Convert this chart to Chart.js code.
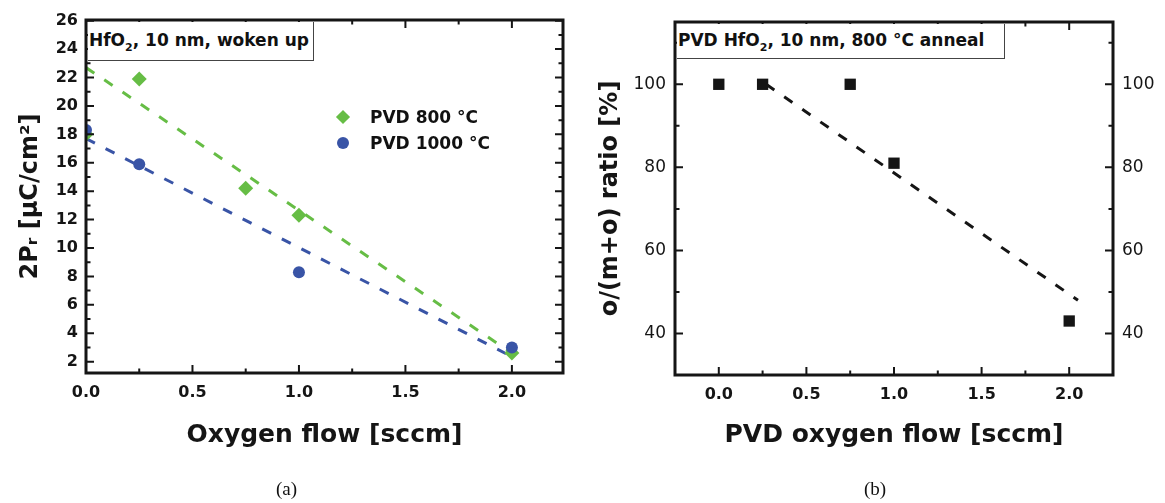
<!DOCTYPE html>
<html>
<head>
<meta charset="utf-8">
<script src="https://cdn.jsdelivr.net/npm/chart.js@4.4.1/dist/chart.umd.min.js"></script>
<style>
  body { margin: 0; background: #fff; }
  #wrap { position: relative; width: 1165px; height: 503px; overflow: hidden; font-family: "DejaVu Sans", sans-serif; color: #111; }
  canvas { position: absolute; top: 0; }
  #chartA { left: 0; }
  #chartB { left: 582px; }
  .box { position: absolute; background: #fff; border-right: 1px solid #444; border-bottom: 1px solid #444; font-size: 17px; font-weight: bold; white-space: nowrap; line-height: 1; }
  .box sub { font-size: 11px; vertical-align: -5px; line-height: 0; }
  #legendA { position: absolute; left: 330px; top: 104px; font-weight: bold; font-size: 17px; }
  #legendA .row { position: relative; height: 26px; line-height: 26px; padding-left: 40px; }
  #legendA .mk { position: absolute; }
  .caption { position: absolute; top: 478px; font-family: "Liberation Serif", serif; font-size: 19px; }
</style>
</head>
<body>
<div id="wrap">
  <canvas id="chartA" width="582" height="503"></canvas>
  <canvas id="chartB" width="583" height="503"></canvas>
  <div class="box" style="left:88px; top:22px; width:224px; height:38px; padding-left:1px;"><span style="position:relative; top:10px;">HfO<sub>2</sub>, 10 nm, woken up</span></div>
  <div class="box" style="left:677px; top:24px; width:326px; height:34px; padding-left:1px;"><span style="position:relative; top:8px;">PVD HfO<sub>2</sub>, 10 nm, 800 °C anneal</span></div>
  <div id="legendA"></div>
  <div class="caption" style="left:276px;">(a)</div>
  <div class="caption" style="left:864px;">(b)</div>
</div>
<script>
// (a) remanent polarization vs oxygen flow
const flow800 = [0, 0.25, 0.75, 1.0, 2.0];
const pr800 = [18.0, 21.9, 14.2, 12.3, 2.6];
const flow1000 = [0, 0.25, 1.0, 2.0];
const pr1000 = [18.3, 15.9, 8.3, 3.0];
const fitFlowA = [0, 2.0];
const fit800 = [22.7, 2.6];
const fit1000 = [17.7, 2.35];

// (b) orthorhombic ratio vs oxygen flow
const flowB = [0, 0.25, 0.75, 1.0, 2.0];
const ratioB = [100, 100, 100, 81, 43];
const fitFlowB = [0.27, 2.05];
const fitRatioB = [100, 48];

// tick labels
const xTicksA = [0, 0.5, 1.0, 1.5, 2.0];
const xMinorA = [0.25, 0.75, 1.25, 1.75];
const yTicksA = [2, 4, 6, 8, 10, 12, 14, 16, 18, 20, 22, 24, 26];
const yMinorA = [3, 5, 7, 9, 11, 13, 15, 17, 19, 21, 23, 25];
const xTicksB = [0, 0.5, 1.0, 1.5, 2.0];
const xMinorB = [0.25, 0.75, 1.25, 1.75];
const yTicksB = [40, 60, 80, 100];
const yMinorB = [50, 70, 90, 110];

const GREEN = '#66bd45';
const BLUE = '#3954a6';
const INK = '#151515';

const pts = (xs, ys) => xs.map((x, i) => ({ x: x, y: ys[i] }));
const setTicks = vals => scale => { scale.ticks = vals.map(v => ({ value: v })); };

// frame with inward ticks on all four sides
const frameTicks = {
    id: 'frameTicks',
    afterDatasetsDraw(chart, args, o) {
        const { ctx, chartArea: a } = chart;
        const xs = chart.scales.x, ys = chart.scales.y;
        ctx.save();
        ctx.strokeStyle = INK;
        ctx.lineWidth = 2;
        ctx.beginPath();
        const xMark = (vals, len) => vals.forEach(v => {
            const px = xs.getPixelForValue(v);
            ctx.moveTo(px, a.bottom); ctx.lineTo(px, a.bottom - len);
            ctx.moveTo(px, a.top); ctx.lineTo(px, a.top + len);
        });
        const yMark = (vals, len) => vals.forEach(v => {
            const py = ys.getPixelForValue(v);
            ctx.moveTo(a.left, py); ctx.lineTo(a.left + len, py);
            ctx.moveTo(a.right, py); ctx.lineTo(a.right - len, py);
        });
        xMark(o.xMajor, 8); xMark(o.xMinor, 4.5);
        yMark(o.yMajor, 8); yMark(o.yMinor, 4.5);
        ctx.stroke();
        ctx.lineWidth = 3;
        ctx.strokeRect(a.left, a.top, a.right - a.left, a.bottom - a.top);
        ctx.restore();
    }
};

const tickFont = { family: 'DejaVu Sans', size: 16, weight: 'bold' };
const tickFontB = { family: 'DejaVu Sans', size: 17 };
const titleFont = { family: 'DejaVu Sans', size: 25, weight: 'bold' };
const DASH = [10, 12];

const chartA = new Chart(document.getElementById('chartA'), {
    type: 'scatter',
    data: {
        datasets: [
            { label: 'PVD 1000 °C', data: pts(flow1000, pr1000), pointStyle: 'circle', pointRadius: 6, backgroundColor: BLUE, borderWidth: 0 },
            { label: 'PVD 800 °C', data: pts(flow800, pr800), pointStyle: 'rectRot', pointRadius: 7.5, backgroundColor: GREEN, borderWidth: 0 },
            { label: 'fit 800', data: pts(fitFlowA, fit800), showLine: true, pointRadius: 0, borderColor: GREEN, borderWidth: 3, borderDash: DASH },
            { label: 'fit 1000', data: pts(fitFlowA, fit1000), showLine: true, pointRadius: 0, borderColor: BLUE, borderWidth: 3, borderDash: DASH }
        ]
    },
    options: {
        responsive: false,
        animation: false,
        layout: { padding: { left: 0, top: 20, right: 19, bottom: 50 } },
        plugins: {
            legend: { display: false },
            tooltip: { enabled: false },
            frameTicks: { xMajor: xTicksA, xMinor: xMinorA, yMajor: yTicksA, yMinor: yMinorA }
        },
        scales: {
            x: {
                min: 0, max: 2.24,
                afterBuildTicks: setTicks(xTicksA),
                afterFit: s => { s.height = 80; },
                grid: { display: false, drawTicks: false },
                border: { display: false },
                ticks: { font: tickFont, color: INK, padding: 10, maxRotation: 0, callback: v => v.toFixed(1) },
                title: { display: true, text: 'Oxygen flow [sccm]', font: titleFont, color: INK, padding: { top: 0, bottom: 3 } }
            },
            y: {
                min: 1.2, max: 26.05,
                afterBuildTicks: setTicks(yTicksA),
                afterFit: s => { s.width = 86; },
                grid: { display: false, drawTicks: false },
                border: { display: false },
                ticks: { font: tickFont, color: INK, padding: 8 },
                title: { display: true, text: '2Pᵣ [µC/cm²]', font: { family: 'DejaVu Sans', size: 24, weight: 'bold' }, color: INK, padding: { top: 16, bottom: 0 } }
            }
        }
    },
    plugins: [frameTicks]
});

const chartB = new Chart(document.getElementById('chartB'), {
    type: 'scatter',
    data: {
        datasets: [
            { label: 'PVD HfO₂ 800 °C', data: pts(flowB, ratioB), pointStyle: 'rect', pointRadius: 8, backgroundColor: INK, borderWidth: 0 },
            { label: 'fit', data: pts(fitFlowB, fitRatioB), showLine: true, pointRadius: 0, borderColor: INK, borderWidth: 3, borderDash: DASH }
        ]
    },
    options: {
        responsive: false,
        animation: false,
        layout: { padding: { left: 0, top: 22, right: 0, bottom: 50 } },
        plugins: {
            legend: { display: false },
            tooltip: { enabled: false },
            frameTicks: { xMajor: xTicksB, xMinor: xMinorB, yMajor: yTicksB, yMinor: yMinorB }
        },
        scales: {
            x: {
                min: -0.25, max: 2.25,
                afterBuildTicks: setTicks(xTicksB),
                afterFit: s => { s.height = 78; },
                grid: { display: false, drawTicks: false },
                border: { display: false },
                ticks: { font: tickFont, color: INK, padding: 10, maxRotation: 0, callback: v => v.toFixed(1) },
                title: { display: true, text: 'PVD oxygen flow [sccm]', font: titleFont, color: INK, padding: { top: 0, bottom: 3 } }
            },
            y: {
                min: 30, max: 115,
                afterBuildTicks: setTicks(yTicksB),
                afterFit: s => { s.width = 93; },
                grid: { display: false, drawTicks: false },
                border: { display: false },
                ticks: { font: tickFontB, color: INK, padding: 9 },
                title: { display: true, text: 'o/(m+o) ratio [%]', font: { family: 'DejaVu Sans', size: 24, weight: 'bold' }, color: INK, padding: { top: 14, bottom: 0 } }
            },
            y2: {
                position: 'right',
                min: 30, max: 115,
                afterBuildTicks: setTicks(yTicksB),
                afterFit: s => { s.width = 52; },
                grid: { display: false, drawTicks: false },
                border: { display: false },
                ticks: { font: tickFontB, color: INK, padding: 9 }
            }
        }
    },
    plugins: [frameTicks]
});

// legend for (a), built from the marker datasets
const legendA = document.getElementById('legendA');
[chartA.data.datasets[1], chartA.data.datasets[0]].forEach(ds => {
    const row = document.createElement('div');
    row.className = 'row';
    const mk = document.createElement('span');
    mk.className = 'mk';
    if (ds.pointStyle === 'rectRot') {
        mk.style.cssText = 'left:8px; top:8px; width:10px; height:10px; transform:rotate(45deg); background:' + ds.backgroundColor;
    } else {
        mk.style.cssText = 'left:7px; top:7px; width:12px; height:12px; border-radius:50%; background:' + ds.backgroundColor;
    }
    row.appendChild(mk);
    row.appendChild(document.createTextNode(ds.label));
    legendA.appendChild(row);
});
</script>
</body>
</html>
